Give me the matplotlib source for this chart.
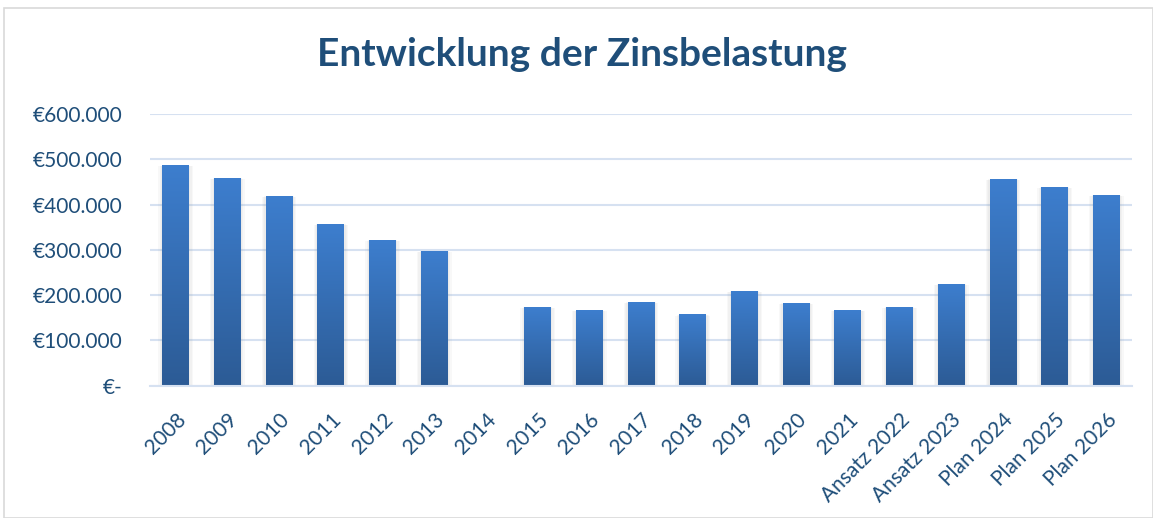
import numpy as np
import matplotlib
matplotlib.use("Agg")
import matplotlib.pyplot as plt
from matplotlib.patches import Rectangle
from matplotlib.colors import LinearSegmentedColormap

categories = ["2008", "2009", "2010", "2011", "2012", "2013", "2014", "2015",
              "2016", "2017", "2018", "2019", "2020", "2021", "Ansatz 2022",
              "Ansatz 2023", "Plan 2024", "Plan 2025", "Plan 2026"]
values = [487000, 459000, 419000, 357000, 322000, 297500, 0, 174000,
          167000, 185000, 158000, 209000, 183000, 167000, 174000,
          225000, 456500, 439000, 421000]
yticks = [0, 100000, 200000, 300000, 400000, 500000, 600000]
ytick_labels = ["€-", "€100.000", "€200.000", "€300.000", "€400.000",
                "€500.000", "€600.000"]

text_col = "#1F4E79"
grid_col = "#D6E1F1"
plt.rcParams['font.family'] = ['Lato', 'DejaVu Sans']

fig = plt.figure(figsize=(11.53, 5.18), dpi=100)
# chart border
fig.patches.append(Rectangle((4 / 1153, 0), 1 - 4 / 1153, 1 - 8 / 518,
                             transform=fig.transFigure, fill=False,
                             edgecolor="#D9D9D9", linewidth=1.2))

ax = fig.add_axes([0.130, 0.2554, 0.852, 0.5246])
x = np.arange(len(categories))
width = 0.52

cmap = LinearSegmentedColormap.from_list("blu", ["#2C5B95", "#3D7ECE"])
grad = np.linspace(0, 1, 256).reshape(-1, 1)

for xi, v in zip(x, values):
    if v <= 0:
        continue
    # soft shadow
    for k in range(3):
        d = 0.025 * (k + 1)
        ax.add_patch(Rectangle((xi - width / 2 - d, -3000 * (k + 1)),
                               width + 2 * d, v + 2000 * (k + 1),
                               facecolor="#7F7F7F", edgecolor="none",
                               alpha=0.05, zorder=2))
    bar = ax.bar(xi, v, width=width, color="none", zorder=3)[0]
    im = ax.imshow(grad, cmap=cmap, aspect="auto", origin="lower",
                   extent=(xi - width / 2, xi + width / 2, 0, v), zorder=4)
    im.set_clip_path(bar)

ax.set_xlim(-0.5, len(categories) - 0.5)
ax.set_ylim(0, 600000)
ax.set_yticks(yticks)
ax.set_yticklabels(ytick_labels)
ax.set_xticks(x)
ax.set_xticklabels(categories, rotation=45, ha="right", va="top",
                   rotation_mode="anchor")
ax.tick_params(axis="x", length=0, pad=17, labelsize=15, labelcolor=text_col)
ax.tick_params(axis="y", length=0, pad=20, labelsize=15, labelcolor=text_col)

ax.grid(axis="y", color=grid_col, linewidth=1.5, zorder=0)
ax.set_axisbelow(True)
for s in ["top", "right", "left"]:
    ax.spines[s].set_visible(False)
ax.spines["bottom"].set_color(grid_col)
ax.spines["bottom"].set_linewidth(1.5)
ax.spines["bottom"].set_zorder(5)

fig.text(0.505, 0.895, "Entwicklung der Zinsbelastung", ha="center",
         va="center", fontsize=28, fontweight="bold", color=text_col)

fig.savefig("out.png", dpi=100)
